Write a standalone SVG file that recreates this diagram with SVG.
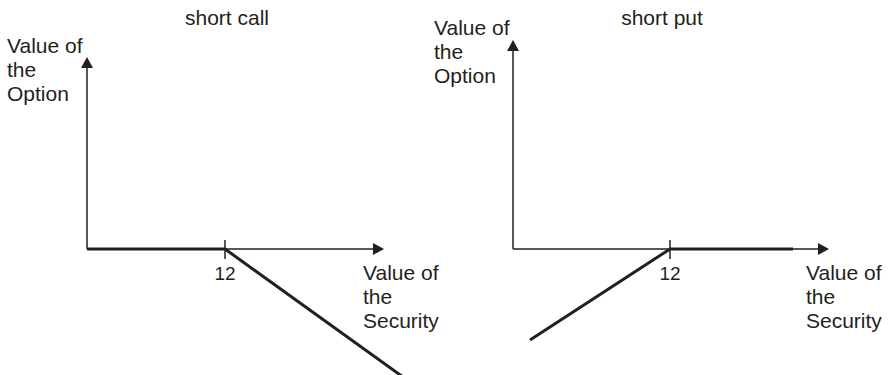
<svg xmlns="http://www.w3.org/2000/svg" width="888" height="375" viewBox="0 0 888 375">
<style>
text{font-family:"Liberation Sans",Arial,sans-serif;fill:#231f20;font-size:21px}
.tick{font-size:19px;text-anchor:middle}
.title{text-anchor:middle}
.axis{stroke:#231f20;stroke-width:1.5;fill:none}
.pay{stroke:#231f20;stroke-width:3;fill:none}
.head{fill:#231f20}
</style>
<rect width="888" height="375" fill="#fff"/>
<g id="short-call">
<text class="title" x="227" y="25">short call</text>
<text x="7" y="53">Value of</text>
<text x="7" y="77">the</text>
<text x="7" y="101">Option</text>
<text x="363" y="280">Value of</text>
<text x="363" y="304">the</text>
<text x="363" y="328">Security</text>
<text class="tick" x="225" y="280">12</text>
</g>
<g id="short-put">
<text class="title" x="662" y="25">short put</text>
<text x="434" y="35">Value of</text>
<text x="434" y="59">the</text>
<text x="434" y="83">Option</text>
<text x="806" y="280">Value of</text>
<text x="806" y="304">the</text>
<text x="806" y="328">Security</text>
<text class="tick" x="670" y="280">12</text>
</g>
<g id="connectors">
<line class="axis" x1="87" y1="249" x2="87" y2="66"/>
<polygon class="head" points="87,57 81,68 93,68"/>
<line class="axis" x1="87" y1="249" x2="374" y2="249"/>
<polygon class="head" points="384,249 373,243 373,255"/>
<line class="axis" x1="225" y1="240" x2="225" y2="259"/>
<polyline class="pay" points="87,249 225,249 403,377"/>
<line class="axis" x1="513" y1="249" x2="513" y2="49"/>
<polygon class="head" points="513,40 507,51 519,51"/>
<line class="axis" x1="513" y1="249" x2="819" y2="249"/>
<polygon class="head" points="829,249 818,243 818,255"/>
<line class="axis" x1="670" y1="240" x2="670" y2="259"/>
<polyline class="pay" points="530,340 670,249 793,249"/>
</g>
</svg>
